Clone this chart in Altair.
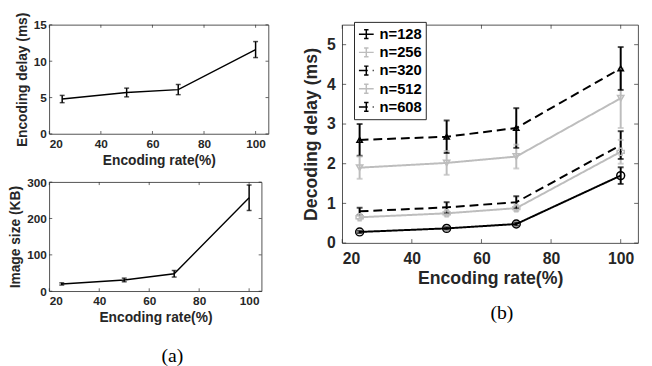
import altair as alt
import pandas as pd

# ---------------- data ----------------
rates = [25, 50, 70, 100]

enc_delay = [4.8, 5.7, 6.1, 11.6]
enc_delay_err = [0.5, 0.6, 0.7, 1.1]

img_size = [20, 31, 48, 257]
img_size_err = [3, 5, 9, 35]

series = ["n=128", "n=256", "n=320", "n=512", "n=608"]
dec_128 = [0.28, 0.37, 0.48, 1.70]
dec_256 = [0.65, 0.75, 0.88, 2.30]
dec_320 = [0.80, 0.90, 1.03, 2.47]
dec_512 = [1.90, 2.02, 2.18, 3.65]
dec_608 = [2.60, 2.68, 2.90, 4.40]
err_128 = [0.03, 0.03, 0.04, 0.21]
err_256 = [0.05, 0.06, 0.07, 0.30]
err_320 = [0.09, 0.13, 0.15, 0.35]
err_512 = [0.28, 0.30, 0.30, 0.75]
err_608 = [0.40, 0.41, 0.50, 0.54]

x_ticks = [20, 40, 60, 80, 100]
delay_ticks = [0, 5, 10, 15]
size_ticks = [0, 100, 200, 300]
dec_ticks = [0, 1, 2, 3, 4, 5]

# ---------------- styles ----------------
AX = "#262626"
FONT = "Liberation Sans"
SERIF = "Liberation Serif"
series_colors = ["#000000", "#bdbdbd", "#000000", "#bdbdbd", "#000000"]
series_dash = [[1, 0], [1, 0], [9, 5], [1, 0], [9, 5]]
marker_series = ["n=128", "n=256", "n=512", "n=608"]
marker_shapes = ["circle", "cross", "triangle-down", "triangle-up"]
marker_sizes = [64, 30, 110, 110]
LEG_PATH = "M-1,0H1M0,-0.6V0.6M-0.3,-0.6H0.3M-0.3,0.6H0.3"


def frame_ticks(xvals, yvals, X_of, Y_of, W, H, L=3):
    xt = pd.DataFrame({"t": xvals})
    yt = pd.DataFrame({"t": yvals})
    bx = alt.Chart(xt).mark_rule(color=AX, strokeWidth=0.7)
    by = alt.Chart(yt).mark_rule(color=AX, strokeWidth=0.7)
    X = X_of("t")
    Y = Y_of("t")
    return [
        bx.encode(x=X, y=alt.value(H - L), y2=alt.value(H)),
        bx.encode(x=X, y=alt.value(0), y2=alt.value(L)),
        by.encode(y=Y, x=alt.value(0), x2=alt.value(L)),
        by.encode(y=Y, x=alt.value(W - L), x2=alt.value(W)),
    ]


def small_panel(values, errs, yticks, ydom, ytitle, W, H):
    df = pd.DataFrame({
        "rate": rates,
        "v": values,
        "lo": [v - e for v, e in zip(values, errs)],
        "hi": [v + e for v, e in zip(values, errs)],
    })
    xs = alt.Scale(domain=[20, 105], nice=False, zero=False)
    ys = alt.Scale(domain=ydom, nice=False)
    xax = alt.Axis(values=x_ticks, title="Encoding rate(%)", labelFontSize=12,
                   titleFontSize=14, labelPadding=5, titlePadding=4)
    yax = alt.Axis(values=yticks, title=ytitle, labelFontSize=12, titleFontSize=14,
                   labelPadding=3, titlePadding=4)

    def X_of(f):
        return alt.X(f + ":Q", scale=xs, axis=xax)

    def Y_of(f):
        return alt.Y(f + ":Q", scale=ys, axis=yax)

    base = alt.Chart(df)
    line = base.mark_line(color="black", strokeWidth=1.4).encode(x=X_of("rate"), y=Y_of("v"))
    bars = base.mark_rule(color="black", strokeWidth=1.5).encode(
        x=X_of("rate"), y=Y_of("lo"), y2="hi:Q")
    cap_lo = base.mark_tick(orient="horizontal", size=5, thickness=1.5, color="black").encode(
        x=X_of("rate"), y=Y_of("lo"))
    cap_hi = base.mark_tick(orient="horizontal", size=5, thickness=1.5, color="black").encode(
        x=X_of("rate"), y=Y_of("hi"))
    layers = [line, bars, cap_lo, cap_hi] + frame_ticks(x_ticks, yticks, X_of, Y_of, W, H)
    return alt.layer(*layers).properties(width=W, height=H)


top = small_panel(enc_delay, enc_delay_err, delay_ticks, [0, 15], "Encoding delay (ms)", 223, 111)
bottom = small_panel(img_size, img_size_err, size_ticks, [0, 300], "Image size (KB)", 216, 111)

left = alt.ConcatChart(
    concat=[top, bottom], columns=1, align="none", spacing=7,
    title=alt.Title("(a)", orient="bottom", font=SERIF, fontSize=20,
                    fontWeight="normal", color="black", offset=22, anchor="middle", dx=34),
)

# ---------------- right panel ----------------
dec_vals = [dec_128, dec_256, dec_320, dec_512, dec_608]
dec_errs = [err_128, err_256, err_320, err_512, err_608]
rows = []
for s, vals, errs in zip(series, dec_vals, dec_errs):
    for r, v, e in zip(rates, vals, errs):
        rows.append({"series": s, "rate": r, "v": v, "lo": v - e, "hi": v + e})
ddf = pd.DataFrame(rows)

W2, H2 = 301, 222
xs2 = alt.Scale(domain=[20, 105], nice=False, zero=False)
ys2 = alt.Scale(domain=[0, 5.5], nice=False)
xax2 = alt.Axis(values=x_ticks, title="Encoding rate(%)", labelFontSize=16, titleFontSize=18,
                labelPadding=8, titlePadding=3)
yax2 = alt.Axis(values=dec_ticks, title="Decoding delay (ms)", labelFontSize=16, titleFontSize=18,
                labelPadding=7, titlePadding=6)


def X2(f):
    return alt.X(f + ":Q", scale=xs2, axis=xax2)


def Y2(f):
    return alt.Y(f + ":Q", scale=ys2, axis=yax2)


col_scale = alt.Scale(domain=series, range=series_colors)
dash_scale = alt.Scale(domain=series, range=series_dash)

legend = alt.Legend(
    title=None, orient="none", legendX=12, legendY=-3, strokeColor=AX, fillColor="white",
    padding=4, labelFont=FONT, labelFontSize=15, labelFontWeight="bold", labelColor="black",
    symbolType=LEG_PATH, symbolSize=225, symbolStrokeWidth=1.5, rowPadding=1.5, labelOffset=5,
    cornerRadius=0,
)

dbase = alt.Chart(ddf)
lines2 = dbase.mark_line(strokeWidth=2).encode(
    x=X2("rate"), y=Y2("v"),
    color=alt.Color("series:N", scale=col_scale, legend=legend, sort=series),
    strokeDash=alt.StrokeDash("series:N", scale=dash_scale, legend=legend, sort=series),
)
bars2 = dbase.mark_rule(strokeWidth=2).encode(
    x=X2("rate"), y=Y2("lo"), y2="hi:Q",
    color=alt.Color("series:N", scale=col_scale, legend=None))
cap_lo2 = dbase.mark_tick(orient="horizontal", size=6, thickness=2).encode(
    x=X2("rate"), y=Y2("lo"),
    color=alt.Color("series:N", scale=col_scale, legend=None))
cap_hi2 = dbase.mark_tick(orient="horizontal", size=6, thickness=2).encode(
    x=X2("rate"), y=Y2("hi"),
    color=alt.Color("series:N", scale=col_scale, legend=None))
points2 = dbase.transform_filter(
    alt.FieldOneOfPredicate(field="series", oneOf=marker_series)
).mark_point(filled=False, strokeWidth=1.5, opacity=1).encode(
    x=X2("rate"), y=Y2("v"),
    color=alt.Color("series:N", scale=col_scale, legend=None),
    shape=alt.Shape("series:N", scale=alt.Scale(domain=marker_series, range=marker_shapes), legend=None),
    size=alt.Size("series:N", scale=alt.Scale(domain=marker_series, range=marker_sizes), legend=None),
)

right = alt.layer(
    lines2, bars2, cap_lo2, cap_hi2, points2, *frame_ticks(x_ticks, dec_ticks, X2, Y2, W2, H2, 4)
).properties(
    width=W2, height=H2,
    title=alt.Title("(b)", orient="bottom", font=SERIF, fontSize=20,
                    fontWeight="normal", color="black", offset=16, anchor="middle", dx=12),
)

chart = alt.HConcatChart(hconcat=[left, right], spacing=33).properties(
    padding={"left": 0, "top": 0, "right": 5, "bottom": 0}
).resolve_scale(
    color="independent", strokeDash="independent", shape="independent", size="independent"
).resolve_legend(
    color="independent", strokeDash="independent"
).configure_view(stroke=AX, strokeWidth=0.8).configure_axis(
    labelFont=FONT, titleFont=FONT, labelColor=AX, titleColor=AX,
    labelFontWeight="bold", titleFontWeight="bold", ticks=False, domain=False, grid=False,
).configure_title(font=SERIF)

chart.save("out.html", embed_options={"renderer": "svg", "actions": False})
